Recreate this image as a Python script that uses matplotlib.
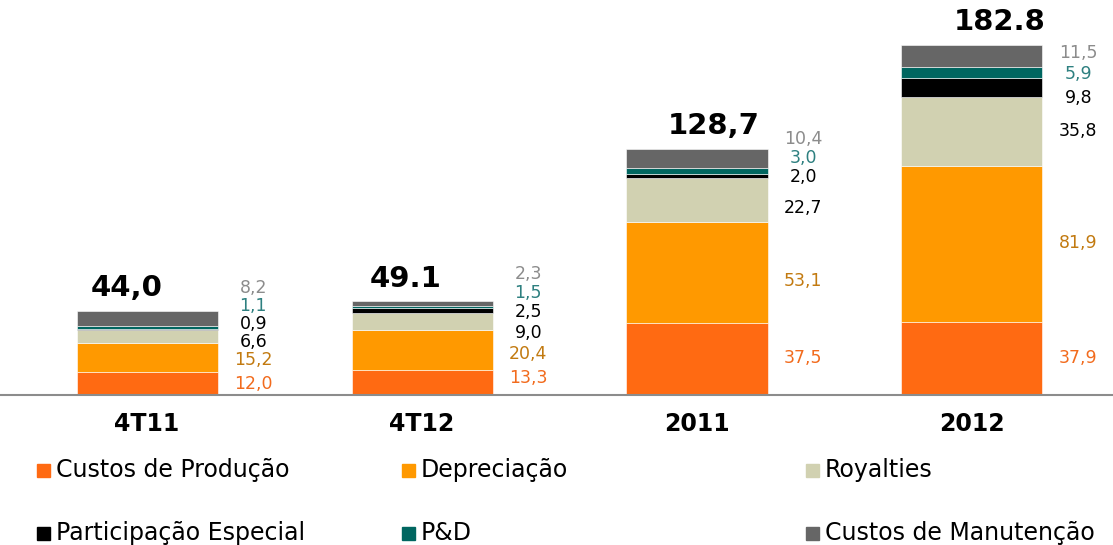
import matplotlib
matplotlib.use("Agg")
import matplotlib.pyplot as plt
from matplotlib.patches import Rectangle
import numpy as np

categories = ["4T11", "4T12", "2011", "2012"]
series = ["Custos de Produção", "Depreciação", "Royalties",
          "Participação Especial", "P&D", "Custos de Manutenção"]
producao = [12.0, 13.3, 37.5, 37.9]
depreciacao = [15.2, 20.4, 53.1, 81.9]
royalties = [6.6, 9.0, 22.7, 35.8]
part_especial = [0.9, 2.5, 2.0, 9.8]
p_d = [1.1, 1.5, 3.0, 5.9]
manutencao = [8.2, 2.3, 10.4, 11.5]
totals = ["44,0", "49.1", "128,7", "182.8"]

values = [producao, depreciacao, royalties, part_especial, p_d, manutencao]
bar_colors = ["#FF6A12", "#FF9900", "#D1D1B1", "#000000", "#006660", "#666666"]
label_colors = ["#F26B1D", "#C27A10", "#000000", "#000000", "#2E8080", "#8C8C8C"]

# label heights (value units), spread by hand so small segments don't collide
label_y = [
    [5.7, 18.3, 27.7, 37.1, 46.5, 55.9],
    [8.9, 21.4, 32.4, 43.3, 53.3, 63.2],
    [19.3, 59.5, 97.6, 113.6, 123.7, 133.8],
    [19.3, 79.4, 137.9, 155.1, 167.6, 178.6],
]
total_dx = [-0.075, -0.06, 0.06, 0.1]

fig = plt.figure(figsize=(11.13, 5.45), dpi=100)
ax = fig.add_axes([0, 150 / 545, 1, 395 / 545])
x = np.arange(len(categories))
width = 0.513
bottom = np.zeros(len(categories))
for vals, col in zip(values, bar_colors):
    ax.bar(x, vals, width, bottom=bottom, color=col, edgecolor="white", linewidth=0.4)
    bottom += np.array(vals)

for i in range(len(categories)):
    for j, vals in enumerate(values):
        ax.text(x[i] + width / 2 + 0.13, label_y[i][j], f"{vals[i]:.1f}".replace(".", ","),
                ha="center", va="center", fontsize=12.5, color=label_colors[j])
    ax.text(x[i] + total_dx[i], bottom[i] + 4.5, totals[i], ha="center", va="bottom",
            fontsize=21, fontweight="bold")
    ax.text(x[i], -15, categories[i], ha="center", va="center", fontsize=17,
            fontweight="bold")

ax.set_xlim(-0.535, 3.513)
ax.set_ylim(0, 395 / 1.915)
for s in ["top", "right", "left"]:
    ax.spines[s].set_visible(False)
ax.spines["bottom"].set_color("#8C8C8C")
ax.spines["bottom"].set_linewidth(1.5)
ax.set_xticks([])
ax.set_yticks([])

W, H = 1113, 545
leg_x = [37, 402, 806]
leg_y = [470, 533]
for k, (name, col) in enumerate(zip(series, bar_colors)):
    cx = leg_x[k % 3]
    cy = leg_y[k // 3]
    fig.patches.append(Rectangle(((cx) / W, 1 - (cy + 6.5) / H), 13 / W, 13 / H,
                                 transform=fig.transFigure, color=col))
    fig.text((cx + 19) / W, 1 - cy / H, name, ha="left", va="center", fontsize=17)

fig.savefig("out.png", dpi=100)
